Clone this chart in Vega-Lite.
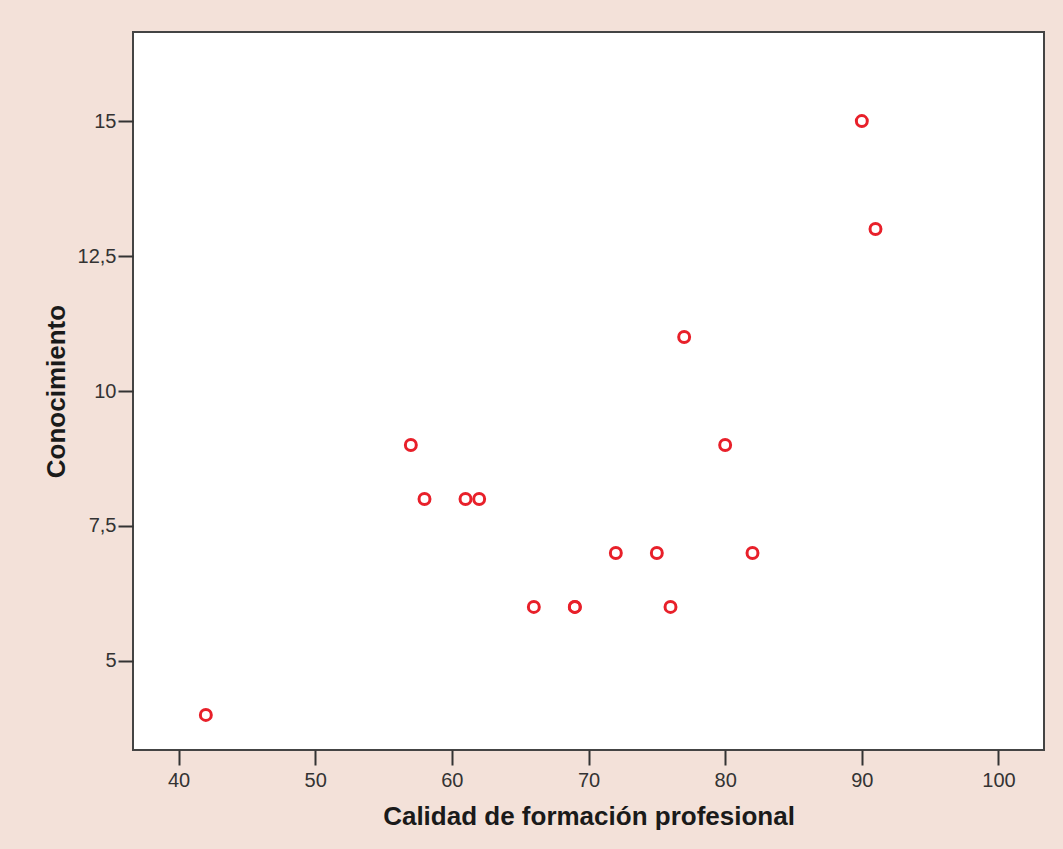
{
  "$schema": "https://vega.github.io/schema/vega-lite/v6.json",
  "autosize": {"type": "none"},
  "padding": {"left": 133, "top": 32, "right": 19, "bottom": 99},
  "width": 911,
  "height": 718,
  "background": "#f3e1d9",
  "config": {
    "view": {"fill": "#ffffff", "stroke": "#444444", "strokeWidth": 2},
    "axis": {
      "domain": false,
      "grid": false,
      "tickColor": "#333333",
      "tickWidth": 2,
      "tickSize": 15,
      "labelFont": "Liberation Sans",
      "labelFontSize": 20,
      "labelColor": "#333333",
      "labelPadding": 5,
      "titleFont": "Liberation Sans",
      "titleFontSize": 26,
      "titleFontWeight": "bold",
      "titleColor": "#1a1a1a"
    }
  },
  "data": {
    "values": [
      {"calidad": 42, "conocimiento": 4},
      {"calidad": 57, "conocimiento": 9},
      {"calidad": 58, "conocimiento": 8},
      {"calidad": 61, "conocimiento": 8},
      {"calidad": 62, "conocimiento": 8},
      {"calidad": 66, "conocimiento": 6},
      {"calidad": 69, "conocimiento": 6},
      {"calidad": 69, "conocimiento": 6},
      {"calidad": 72, "conocimiento": 7},
      {"calidad": 75, "conocimiento": 7},
      {"calidad": 76, "conocimiento": 6},
      {"calidad": 77, "conocimiento": 11},
      {"calidad": 80, "conocimiento": 9},
      {"calidad": 82, "conocimiento": 7},
      {"calidad": 90, "conocimiento": 15},
      {"calidad": 91, "conocimiento": 13}
    ]
  },
  "mark": {"type": "point", "shape": "circle", "filled": false, "color": "#e8202a", "size": 120, "strokeWidth": 3, "opacity": 1},
  "encoding": {
    "x": {
      "field": "calidad",
      "type": "quantitative",
      "title": "Calidad de formación profesional",
      "scale": {"domain": [36.67, 103.33], "nice": false, "zero": false},
      "axis": {"values": [40, 50, 60, 70, 80, 90, 100], "titlePadding": 13}
    },
    "y": {
      "field": "conocimiento",
      "type": "quantitative",
      "title": "Conocimiento",
      "scale": {"domain": [3.35, 16.65], "nice": false, "zero": false},
      "axis": {
        "values": [5, 7.5, 10, 12.5, 15],
        "labelExpr": "replace(format(datum.value, '.1~f'), '.', ',')",
        "labelPadding": 2,
        "titlePadding": 8
      }
    }
  }
}
